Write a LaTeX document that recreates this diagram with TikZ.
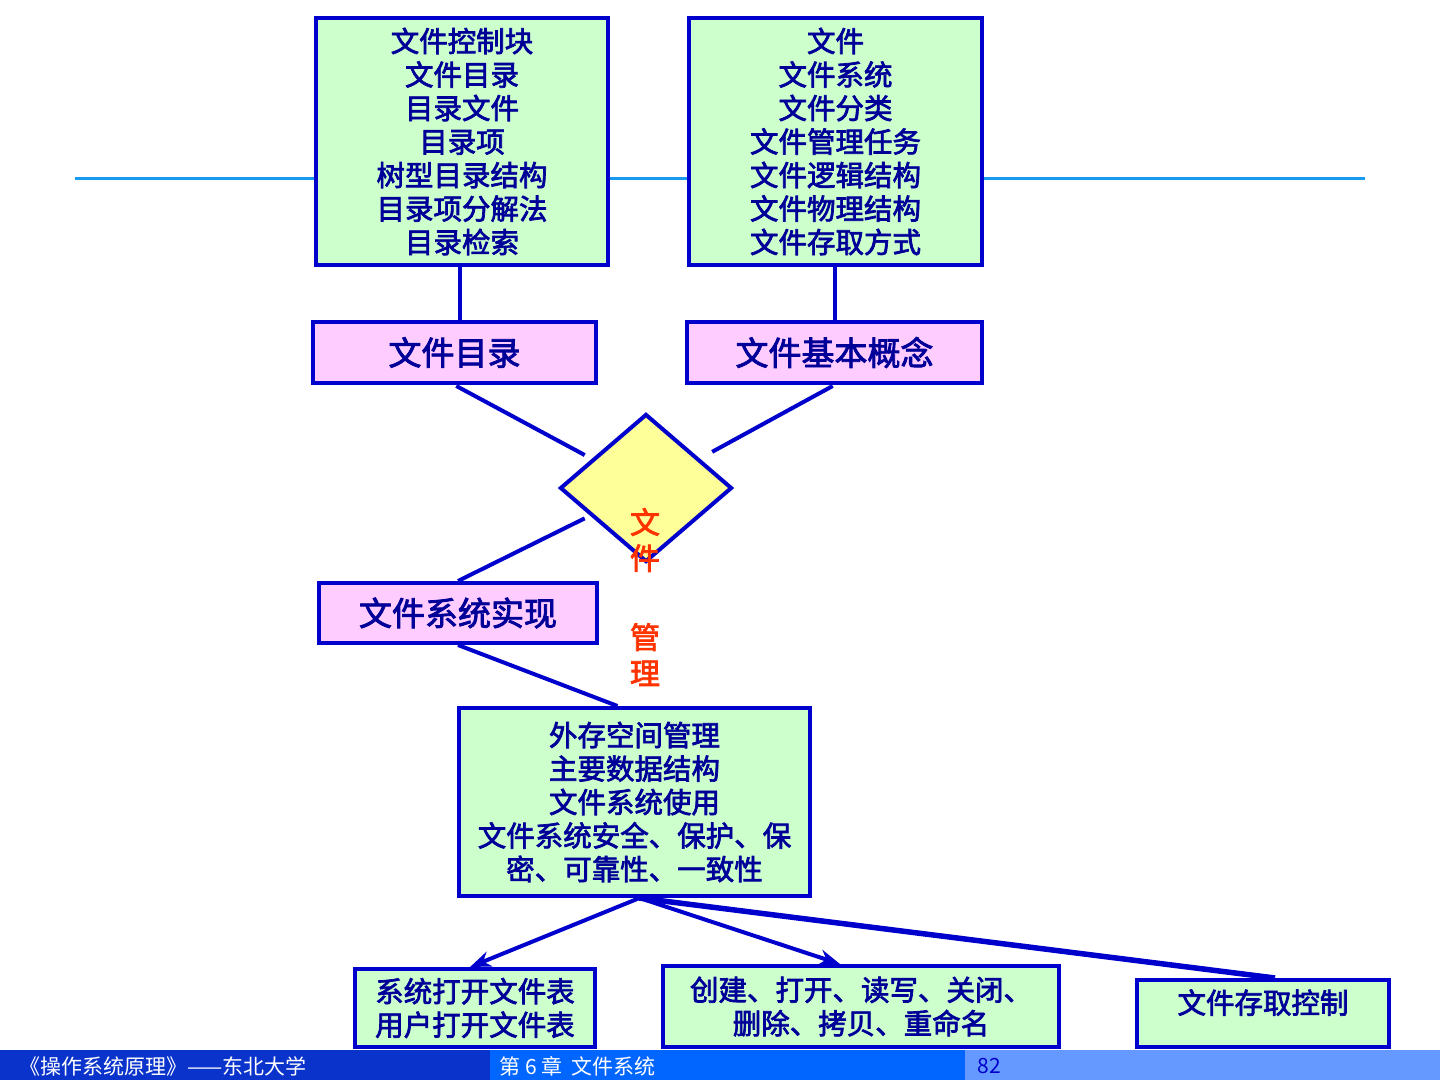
\documentclass[tikz,border=0pt]{standalone}
\usepackage{fontspec}
\setmainfont{Noto Sans CJK SC}[FakeBold=2.5]
\newfontfamily\barfont{Noto Sans CJK SC}
\usetikzlibrary{arrows.meta,shapes.geometric}
\definecolor{boxgreen}{HTML}{CCFFCC}
\definecolor{boxpink}{HTML}{FFCCFF}
\definecolor{boxyellow}{HTML}{FFFF99}
\definecolor{edgeblue}{HTML}{0000CC}
\definecolor{textblue}{HTML}{000099}
\definecolor{rulecyan}{HTML}{1A9AEE}
\definecolor{barA}{HTML}{0A33CC}
\definecolor{barB}{HTML}{0066FF}
\definecolor{barC}{HTML}{6699FF}
\definecolor{titlered}{HTML}{FF3300}

\begin{document}
\begin{tikzpicture}[x=1pt,y=-1pt,line width=4pt,>=Stealth,
  listbox/.style={draw=edgeblue,fill=boxgreen,line width=4pt,inner sep=0pt,
    align=center,text=textblue,font=\fontsize{28.5}{33.5}\selectfont},
  topicbox/.style={draw=edgeblue,fill=boxpink,line width=4pt,inner sep=0pt,
    align=center,text=textblue,font=\fontsize{33}{38}\selectfont},
  link/.style={draw=edgeblue,line width=4pt}]
\useasboundingbox (0,0) rectangle (1440,1080);
% ---- rule behind the top boxes ----
\draw[rulecyan,line width=3pt] (75,178) -- (1365,178);
% ---- top detail boxes ----
\node[listbox,minimum width=292pt,minimum height=247pt] (dirlist) at (462,141.5)
  {文件控制块\\文件目录\\目录文件\\目录项\\树型目录结构\\目录项分解法\\目录检索};
\node[listbox,minimum width=293pt,minimum height=247pt] (baselist) at (835.5,141.5)
  {文件\\文件系统\\文件分类\\文件管理任务\\文件逻辑结构\\文件物理结构\\文件存取方式};
% ---- topic boxes ----
\node[topicbox,minimum width=283pt,minimum height=61pt] (dir) at (454.5,352.5) {文件目录};
\node[topicbox,minimum width=295pt,minimum height=61pt] (base) at (834.5,352.5) {文件基本概念};
\node[topicbox,minimum width=278pt,minimum height=60pt] (impl) at (458,613) {文件系统实现};
% ---- centre diamond ----
\node[diamond,draw=edgeblue,fill=boxyellow,line width=4pt,inner sep=0pt,
  minimum width=172pt,minimum height=148pt] (mgmt) at (646,488) {};
\node[text=titlered,align=center,font=\fontsize{30}{36}\selectfont]
  (mgmtlabel) at (645,597) {文\\件\\[43pt]管\\理};
% ---- implementation details ----
\node[listbox,minimum width=351pt,minimum height=188pt] (space) at (634.5,802)
  {外存空间管理\\主要数据结构\\文件系统使用\\文件系统安全、保护、保\\密、可靠性、一致性};
\node[listbox,minimum width=240pt,minimum height=78pt] (opentab) at (475,1008)
  {系统打开文件表\\用户打开文件表};
\node[listbox,minimum width=396pt,minimum height=81pt] (ops) at (861,1006.5)
  {创建、打开、读写、关闭、\\删除、拷贝、重命名};
\node[listbox,minimum width=252pt,minimum height=67pt] (access) at (1263,1013.5)
  {\raisebox{0pt}[0pt][0pt]{文件存取控制}};
% ---- connectors ----
\draw[link] (dirlist.south -| 460,0) -- (dir.north -| 460,0);
\draw[link] (baselist.south -| 835,0) -- (base.north -| 835,0);
\draw[link,shorten <=2pt,shorten >=8pt] (dir.south) -- (mgmt);
\draw[link,shorten <=2pt,shorten >=14pt] (base.south) -- (mgmt);
\draw[link,shorten <=6pt] (mgmt) -- (impl.north);
\draw[link] (impl.south) -- ([xshift=-17pt]space.north);
\draw[link,->] ([xshift=5pt]space.south) -- ([xshift=-5pt]opentab.north);
\draw[link,->] ([xshift=5pt]space.south) -- ([xshift=-21pt]ops.north);
\draw[link,line width=5.5pt] ([xshift=5pt]space.south) -- ([xshift=12pt]access.north);
% ---- footer bar ----
\fill[barA] (0,1050) rectangle (490,1080);
\fill[barB] (490,1050) rectangle (965,1080);
\fill[barC] (965,1050) rectangle (1440,1080);
\node[anchor=west,text=white,font=\barfont\fontsize{21}{24}\selectfont] (course) at (14,1066)
  {《操作系统原理》——东北大学};
\node[anchor=west,text=white,font=\barfont\fontsize{21}{24}\selectfont] (chapter) at (494,1066)
  {第 6 章\ \ 文件系统};
\node[anchor=west,text=edgeblue,font=\barfont\fontsize{21}{24}\selectfont] (page) at (972,1066) {82};
\end{tikzpicture}
\end{document}
